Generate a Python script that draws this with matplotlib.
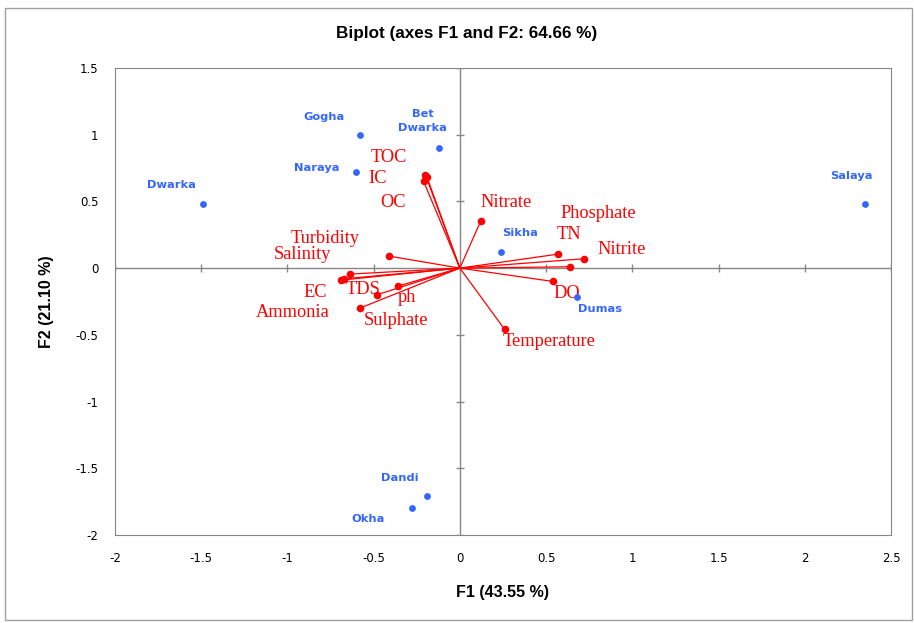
import matplotlib.pyplot as plt
import matplotlib.patches as patches
import numpy as np

# observations (sites)
sites = ['Dwarka', 'Gogha', 'Bet\nDwarka', 'Naraya', 'Salaya', 'Sikha', 'Dumas', 'Dandi', 'Okha']
site_f1 = [-1.49, -0.58, -0.12, -0.60, 2.35, 0.24, 0.68, -0.19, -0.28]
site_f2 = [0.48, 1.00, 0.90, 0.72, 0.48, 0.12, -0.22, -1.71, -1.80]
site_lx = [-1.67, -0.79, -0.215, -0.83, 2.27, 0.35, 0.81, -0.35, -0.53]
site_ly = [0.62, 1.13, 1.10, 0.75, 0.69, 0.26, -0.31, -1.57, -1.88]

# variables (loadings)
vars_ = ['TOC', 'IC', 'OC', 'Nitrate', 'Phosphate', 'TN', 'Nitrite', 'DO', 'Temperature',
         'Turbidity', 'Salinity', 'EC', 'TDS', 'ph', 'Ammonia', 'Sulphate']
var_f1 = [-0.20, -0.21, -0.19, 0.12, 0.64, 0.57, 0.72, 0.54, 0.26,
          -0.41, -0.64, -0.69, -0.67, -0.36, -0.58, -0.48]
var_f2 = [0.70, 0.65, 0.68, 0.35, 0.01, 0.105, 0.07, -0.10, -0.46,
          0.09, -0.045, -0.09, -0.08, -0.135, -0.30, -0.20]
var_lx = [-0.41, -0.48, -0.39, 0.27, 0.80, 0.63, 0.94, 0.62, 0.52,
          -0.78, -0.91, -0.84, -0.56, -0.31, -0.97, -0.37]
var_ly = [0.83, 0.67, 0.49, 0.49, 0.41, 0.25, 0.14, -0.19, -0.55,
          0.22, 0.10, -0.18, -0.16, -0.22, -0.33, -0.39]

xticks = [-2, -1.5, -1, -0.5, 0, 0.5, 1, 1.5, 2, 2.5]
yticks = [-2, -1.5, -1, -0.5, 0, 0.5, 1, 1.5]

blue = '#3366ff'
red = '#ff0000'
grey = '#868686'

fig = plt.figure(figsize=(9.14, 6.23), dpi=100)
ax = fig.add_axes([0.1258, 0.1413, 0.849, 0.7496])

fig.patches.append(patches.Rectangle((0.006, 0.005), 0.992, 0.982, transform=fig.transFigure,
                                     fill=False, edgecolor='#a0a0a0', linewidth=1))

# zero axes with small crossing ticks
ax.axhline(0, color=grey, linewidth=1, zorder=1)
ax.axvline(0, color=grey, linewidth=1, zorder=1)
ax.plot(xticks, np.zeros(len(xticks)), linestyle='none', marker='|', markersize=5.5,
        color=grey, markeredgewidth=1, zorder=1)
ax.plot(np.zeros(len(yticks)), yticks, linestyle='none', marker='_', markersize=5.5,
        color=grey, markeredgewidth=1, zorder=1)

for x, y in zip(var_f1, var_f2):
    ax.plot([0, x], [0, y], color=red, linewidth=0.9, zorder=2)
ax.scatter(var_f1, var_f2, s=30, color=red, zorder=3, linewidths=0)
for name, x, y in zip(vars_, var_lx, var_ly):
    ax.text(x, y, name, color=red, fontsize=13.2, family='Liberation Serif',
            ha='center', va='center')

ax.scatter(site_f1, site_f2, s=24, color=blue, zorder=3, linewidths=0)
for name, x, y in zip(sites, site_lx, site_ly):
    ax.text(x, y, name, color=blue, fontsize=8.2, fontweight='bold', family='DejaVu Sans',
            ha='center', va='center', linespacing=1.5)

ax.set_xlim(-2, 2.5)
ax.set_ylim(-2, 1.5)
ax.set_xticks(xticks)
ax.set_yticks(yticks)
ax.set_xticklabels([f'{t:g}' for t in xticks])
ax.set_yticklabels([f'{t:g}' for t in yticks])
ax.tick_params(length=0, labelsize=8.5, pad=12)
for s in ax.spines.values():
    s.set_color(grey)

ax.set_xlabel('F1 (43.55 %)', fontsize=11.5, fontweight='bold', family='Liberation Sans', labelpad=15)
ax.set_ylabel('F2 (21.10 %)', fontsize=11.5, fontweight='bold', family='Liberation Sans', labelpad=15)
fig.text(0.51, 0.947, 'Biplot (axes F1 and F2: 64.66 %)', fontsize=12.3, fontweight='bold',
         family='Liberation Sans', ha='center', va='center')

fig.savefig('out.png', dpi=100)
